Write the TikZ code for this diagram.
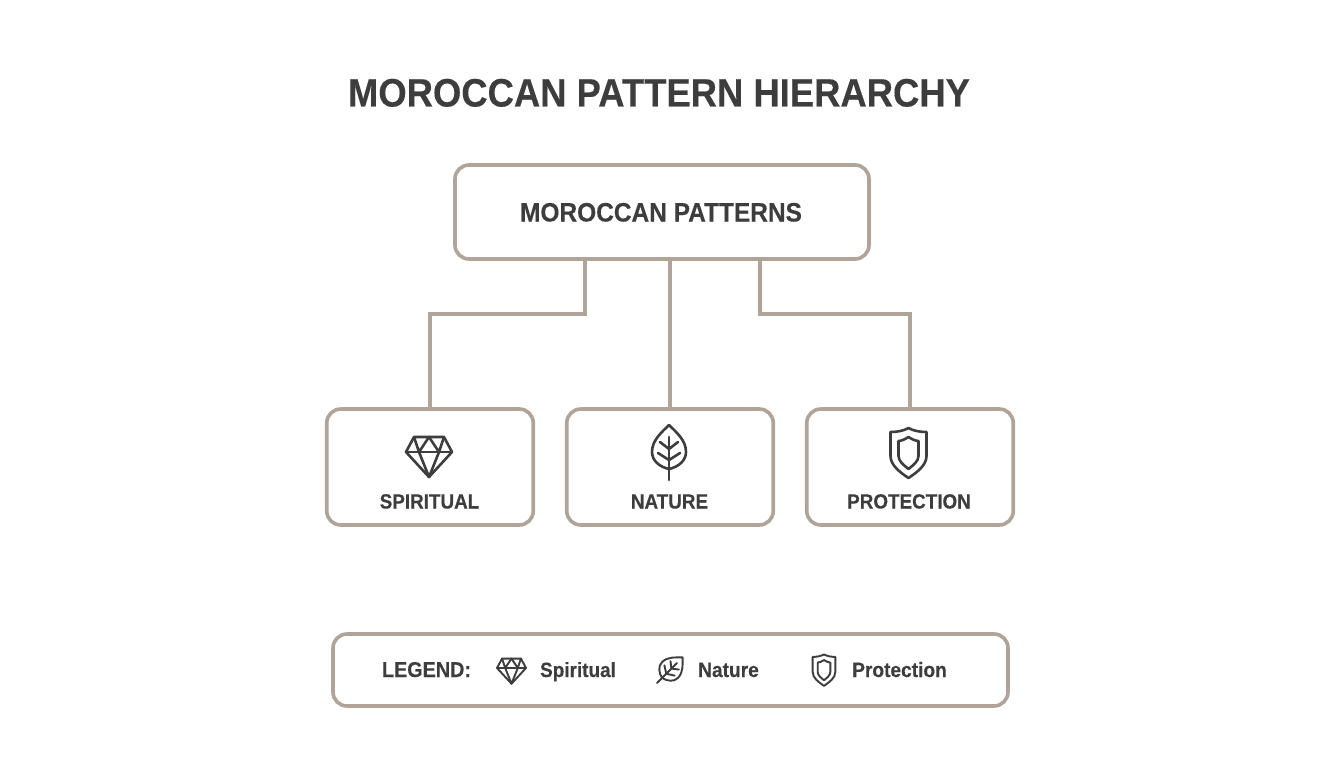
\documentclass[tikz,border=0pt]{standalone}
\usepackage{fontspec}
\setmainfont[FakeStretch=0.92, BoldFeatures={FakeBold=0.25}]{Liberation Sans}
\definecolor{taupe}{HTML}{B0A498}
\definecolor{ink}{HTML}{3D3D3D}
\tikzset{
  panel/.style={draw=taupe, line width=3.6pt, rounded corners=14pt, fill=white, inner sep=0pt},
  linkline/.style={draw=taupe, line width=3.6pt},
  caption/.style={text=ink, font=\bfseries\fontsize{#1}{#1}\selectfont, inner sep=0pt, anchor=base},
  iconline/.style={draw=ink, line width=2.6pt, line join=round, line cap=round},
  smallicon/.style={scale=#1, iconline/.append style={line width=1.9pt}},
  gem/.pic={
    \draw [iconline] (-15, -15) -- (15, -15) -- (23, 0) -- (0, 25) -- (-23, 0) -- cycle;
    \draw [iconline] (-23, 0) -- (23, 0);
    \draw [iconline] (-15, -15) -- (-10, 0) -- (0, -15) -- (10, 0) -- (15, -15);
    \draw [iconline] (-10, 0) -- (0, 25) -- (10, 0);
  },
  leaf/.pic={
    \draw [iconline] (0, -27) .. controls (-7, -20) and (-17, -12) .. (-17, 0)
      .. controls (-17, 9) and (-9, 15) .. (0, 17)
      .. controls (9, 15) and (17, 9) .. (17, 0)
      .. controls (17, -12) and (7, -20) .. (0, -27);
    \draw [iconline] (0, -15) -- (0, 28);
    \draw [iconline] (-9, -10) -- (0, -3) -- (9, -10);
    \draw [iconline] (-11, 1) -- (0, 8) -- (11, 1);
  },
  shield/.pic={
    \draw [iconline] (0, -24) .. controls (-5, -21) and (-12, -20) .. (-18, -20) -- (-18, 4)
      .. controls (-18, 13) and (-9, 20) .. (0, 26)
      .. controls (9, 20) and (18, 13) .. (18, 4) -- (18, -20)
      .. controls (12, -20) and (5, -21) .. (0, -24) -- cycle;
    \draw [iconline] (0, -15) .. controls (-3, -13) and (-7, -11) .. (-10, -11) -- (-10, 4)
      .. controls (-10, 9) and (-5, 13) .. (0, 17)
      .. controls (5, 13) and (10, 9) .. (10, 4) -- (10, -11)
      .. controls (7, -11) and (3, -13) .. (0, -15) -- cycle;
  },
}
\begin{document}
\begin{tikzpicture}[x=1pt, y=-1pt]
  \useasboundingbox [fill=white] (0, 0) rectangle (1344, 768);
  \node [caption=39.6] (title) at (659, 106.5) {MOROCCAN PATTERN HIERARCHY};

  \node [panel, minimum width=414pt, minimum height=94pt] (root) at (662, 212) {};
  \node [caption=26.6] (roottext) at (661, 221.5) {MOROCCAN PATTERNS};

  \node [panel, minimum width=206.5pt, minimum height=116pt] (spiritual) at (430, 467) {};
  \node [panel, minimum width=206.5pt, minimum height=116pt] (nature) at (670, 467) {};
  \node [panel, minimum width=206.5pt, minimum height=116pt] (protection) at (910, 467) {};

  \coordinate (elbowl) at (585, 314);
  \coordinate (elbowr) at (760, 314);
  \draw [linkline, line join=miter] (root.south -| elbowl) -- (elbowl) -| (spiritual.north);
  \draw [linkline] (root.south -| nature.north) -- (nature.north);
  \draw [linkline, line join=miter] (root.south -| elbowr) -- (elbowr) -| (protection.north);

  \pic at (429, 452) {gem};
  \pic at (669, 452) {leaf};
  \pic at (908.5, 452) {shield};
  \node [caption=20.5] (spiritualtext) at (429.5, 508.5) {SPIRITUAL};
  \node [caption=20.5] (naturetext) at (669.5, 508.5) {NATURE};
  \node [caption=20.5] (protectiontext) at (909, 508.5) {PROTECTION};

  \node [panel, minimum width=675pt, minimum height=72pt] (legend) at (670.5, 670) {};
  \node [caption=21.5] (legendtext) at (426.5, 677) {LEGEND:};
  \pic [smallicon=0.63] at (511.5, 668) {gem};
  \node [caption=20.6] (legendgem) at (578, 677) {Spiritual};
  \pic [smallicon=0.66, rotate=-45] at (670, 670) {leaf};
  \node [caption=20.8] (legendleaf) at (728.5, 677) {Nature};
  \pic [smallicon=0.63] at (824, 669.5) {shield};
  \node [caption=20.8] (legendshield) at (899.5, 677) {Protection};
\end{tikzpicture}
\end{document}
